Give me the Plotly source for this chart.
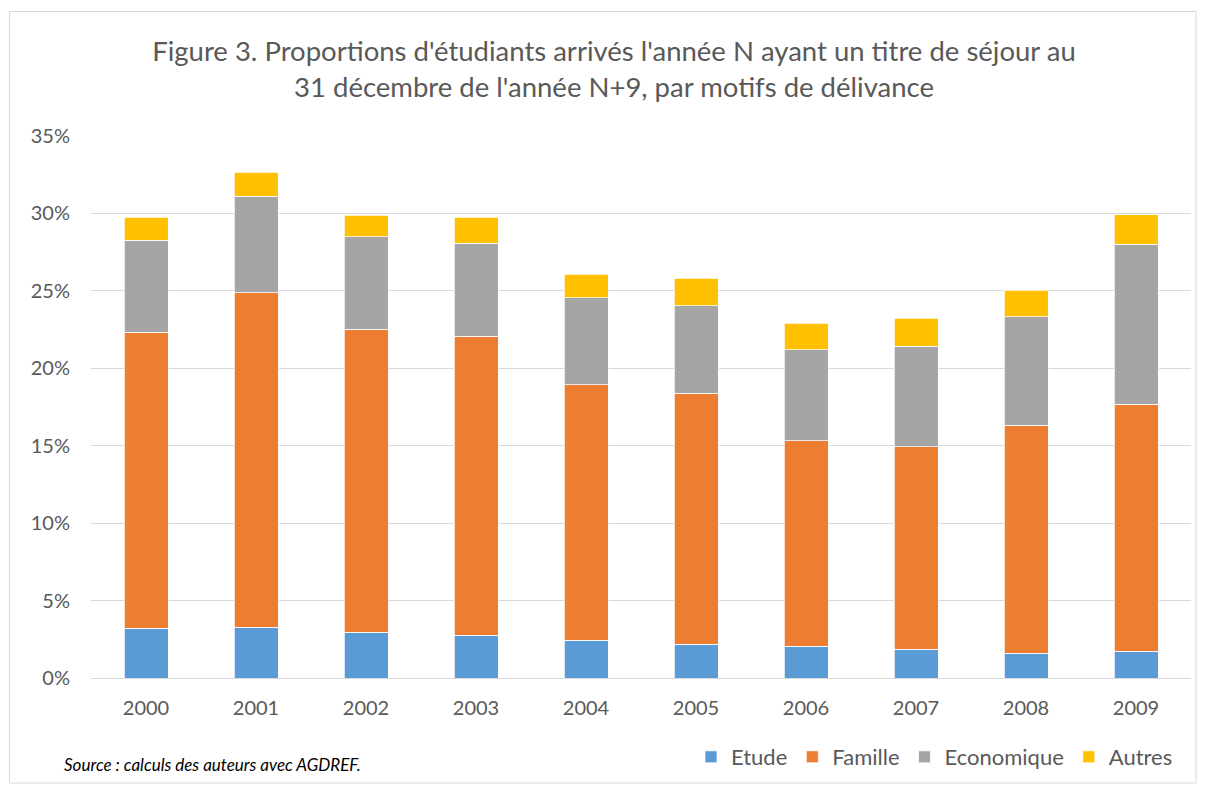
import plotly.graph_objects as go

years = ["2000", "2001", "2002", "2003", "2004", "2005", "2006", "2007", "2008", "2009"]
etude = [3.20, 3.27, 2.95, 2.76, 2.43, 2.17, 2.05, 1.87, 1.61, 1.72]
famille_cum = [22.32, 24.88, 22.51, 22.06, 18.94, 18.38, 15.32, 14.93, 16.31, 17.67]
eco_cum = [28.28, 31.12, 28.49, 28.06, 24.55, 24.04, 21.20, 21.41, 23.33, 28.00]
total = [29.76, 32.65, 29.89, 29.74, 26.08, 25.80, 22.90, 23.22, 25.05, 29.91]

famille = [round(f - e, 2) for f, e in zip(famille_cum, etude)]
economique = [round(c - f, 2) for c, f in zip(eco_cum, famille_cum)]
autres = [round(t - c, 2) for t, c in zip(total, eco_cum)]

series = [
    ("Etude", etude, "#5B9BD5"),
    ("Famille", famille, "#ED7D31"),
    ("Economique", economique, "#A5A5A5"),
    ("Autres", autres, "#FFC000"),
]

FONT = "Lato, 'Open Sans', sans-serif"
GREY = "#595959"

fig = go.Figure()
for name, vals, col in series:
    fig.add_trace(go.Bar(
        x=years, y=vals, name=name,
        marker=dict(color=col, line=dict(color="white", width=0.75)),
    ))

W, H = 1206, 792
L, R, T, B = 91, 15, 136, 114
pw = W - L - R
ph = H - T - B

def px2paper_x(px):
    return (px - L) / pw

def px2paper_y(py):
    return (H - B - py) / ph

fig.update_layout(
    width=W, height=H,
    margin=dict(l=L, r=R, t=T, b=B),
    barmode="stack",
    bargap=0.6,
    plot_bgcolor="white",
    paper_bgcolor="white",
    font=dict(family=FONT, color=GREY, size=20),
    title=dict(
        text="Figure 3. Proportions d'étudiants arrivés l'année N ayant un titre de séjour au<br>31 décembre de l'année N+9, par motifs de délivance",
        x=614 / W, xanchor="center", y=1 - 61 / H, yanchor="middle",
        font=dict(family=FONT, size=27.5, color=GREY),
    ),
    xaxis=dict(
        showgrid=False, ticks="", showline=False,
        tickfont=dict(size=20, color=GREY),
        ticklabelstandoff=16,
    ),
    yaxis=dict(
        range=[0, 35], dtick=5, ticksuffix="%",
        showgrid=True, gridcolor="#D9D9D9", gridwidth=1,
        zeroline=True, zerolinecolor="#D9D9D9", zerolinewidth=1,
        ticks="", showline=False,
        tickfont=dict(size=20, color=GREY),
        ticklabelstandoff=20,
    ),
    legend=dict(
        orientation="h",
        x=px2paper_x(1178), xanchor="right",
        y=px2paper_y(757), yanchor="middle",
        font=dict(size=22, color=GREY),
        traceorder="normal",
        itemwidth=30,
    ),
    shapes=[dict(
        type="rect", xref="paper", yref="paper",
        x0=px2paper_x(9.5), x1=px2paper_x(1196), y0=px2paper_y(783), y1=px2paper_y(11.5),
        line=dict(color="#D9D9D9", width=1), fillcolor="rgba(0,0,0,0)", layer="below",
    )],
    annotations=[dict(
        text="<i>Source : calculs des auteurs avec AGDREF.</i>",
        xref="paper", yref="paper",
        x=px2paper_x(62), xanchor="left",
        y=px2paper_y(764), yanchor="middle",
        showarrow=False,
        font=dict(family=FONT, size=17, color="#000000"),
    )],
)

fig.write_html("out.html", post_script="document.body.style.margin='0';",
               config={"displayModeBar": False})
